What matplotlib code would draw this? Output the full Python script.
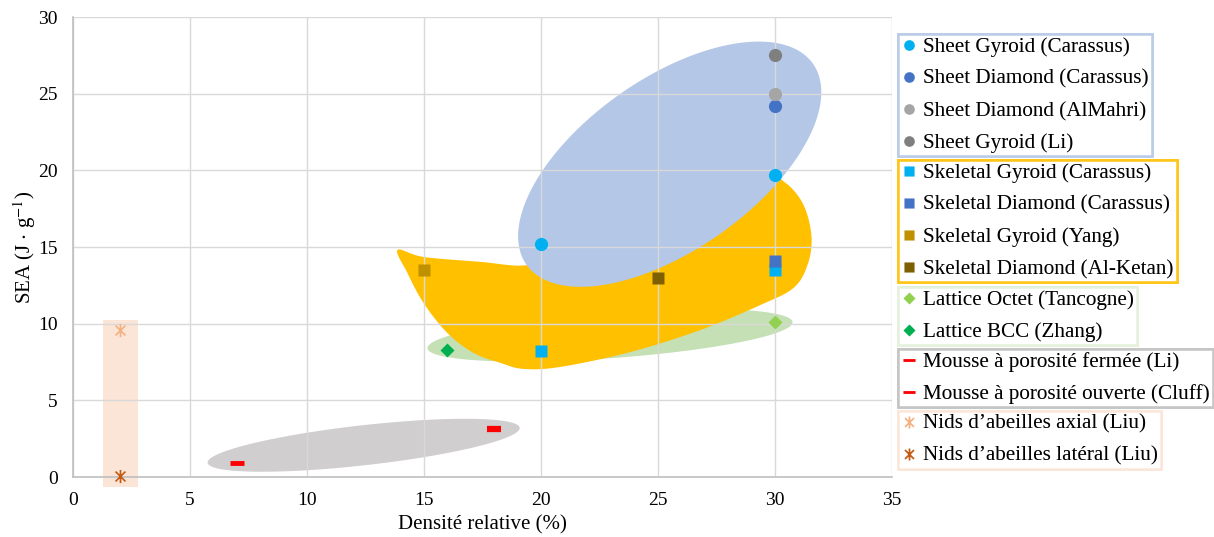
import numpy as np
import matplotlib
matplotlib.use('Agg')
import matplotlib.pyplot as plt
from matplotlib.path import Path
from matplotlib.patches import Polygon, Rectangle
from matplotlib.lines import Line2D

plt.rcParams['font.family'] = ['Liberation Serif', 'DejaVu Serif']
plt.rcParams['mathtext.fontset'] = 'stix'

# ---- data (densite relative %, SEA J/g) ----
labels = ['Sheet Gyroid (Carassus)', 'Sheet Diamond (Carassus)', 'Sheet Diamond (AlMahri)',
          'Sheet Gyroid (Li)',
          'Skeletal Gyroid (Carassus)', 'Skeletal Diamond (Carassus)', 'Skeletal Gyroid (Yang)',
          'Skeletal Diamond (Al-Ketan)',
          'Lattice Octet (Tancogne)', 'Lattice BCC (Zhang)',
          'Mousse à porosité fermée (Li)', 'Mousse à porosité ouverte (Cluff)',
          'Nids d\u2019abeilles axial (Liu)', 'Nids d\u2019abeilles latéral (Liu)']
xs = [[20, 30], [30], [30], [30],
      [20, 30], [30], [15], [25],
      [30], [16],
      [7], [18],
      [2], [2]]
ys = [[15.2, 19.7], [24.2], [25.0], [27.5],
      [8.2, 13.5], [14.1], [13.5], [13.0],
      [10.1], [8.3],
      [0.9], [3.1],
      [9.6], [0.05]]
colors = ['#00B0F0', '#4472C4', '#A5A5A5', '#7F7F7F',
          '#00B0F0', '#4472C4', '#BF9000', '#7F6000',
          '#92D050', '#00B050',
          '#FF0000', '#A0201A',
          '#F4B183', '#C55A11']
groups = [[0, 1, 2, 3], [4, 5, 6, 7], [8, 9], [10, 11], [12, 13]]
group_edge = ['#B4C7E7', '#FFC000', '#E2F0D9', '#BFBFBF', '#FBE5D6']
group_top = [34, 160, 287, 349, 411]   # legend box tops, px

# asterisk: vertical bar + X
star = Path([(0, -1), (0, 1), (-0.75, -0.75), (0.75, 0.75), (-0.75, 0.75), (0.75, -0.75)],
            [Path.MOVETO, Path.LINETO] * 3)
mk = ['o'] * 4 + ['s'] * 4 + ['D'] * 2 + ['_'] * 2 + [star] * 2
ms = [9.5] * 4 + [9] * 4 + [7.5] * 2 + [10] * 2 + [9.5] * 2

# region outlines (data coords)
yellow_x = [13.87, 14.98, 17.41, 19.3, 20.6, 23.5, 26.82, 29.59, 30.45, 31.22, 31.56, 31.39,
            30.79, 29.38, 26.82, 23.82, 20.83, 19.25, 18.27, 17.12, 16.0, 14.98, 14.29]
yellow_y = [14.81, 14.35, 14.03, 13.8, 14.5, 16.4, 17.9, 19.50, 19.18, 17.74, 15.66, 13.83,
            12.33, 11.22, 9.59, 8.15, 7.18, 7.05, 7.44, 8.09, 9.39, 11.35, 13.31]
# ellipses: center (data), semi-axes (px), angle (deg, on screen)
ellipses = [((12.42, 2.07), 157, 20, 6.4, '#D0CECE'),
            ((22.95, 9.25), 183, 23, 4.1, '#C5E0B4')]
blue_ell = ((25.5, 20.4), 175, 86, 35.0, '#B4C7E7')


def catmull(px, py, n=20):
    p = np.column_stack([px, py])
    m = len(p)
    out = []
    for i in range(m):
        p0, p1, p2, p3 = p[i - 1], p[i], p[(i + 1) % m], p[(i + 2) % m]
        for t in np.linspace(0, 1, n, endpoint=False):
            t2, t3 = t * t, t * t * t
            out.append(0.5 * (2 * p1 + (-p0 + p2) * t + (2 * p0 - 5 * p1 + 4 * p2 - p3) * t2
                              + (-p0 + 3 * p1 - 3 * p2 + p3) * t3))
    return np.array(out)


W, H = 1214, 537
fig = plt.figure(figsize=(W / 100, H / 100), dpi=100)
L, R, T, B = 73, 892, 17, 477
ax = fig.add_axes([L / W, 1 - B / H, (R - L) / W, (B - T) / H])
ax.set_xlim(0, 35)
ax.set_ylim(0, 30)
sx = 35 / (R - L)
sy = 30 / (B - T)


def ell_poly(c, a, b, ang):
    t = np.linspace(0, 2 * np.pi, 200)
    th = np.radians(ang)
    dx = a * np.cos(t) * np.cos(th) - b * np.sin(t) * np.sin(th)
    dy = a * np.cos(t) * np.sin(th) + b * np.sin(t) * np.cos(th)
    return np.column_stack([c[0] + dx * sx, c[1] + dy * sy])


for c, a, b, ang, col in ellipses:
    ax.add_patch(Polygon(ell_poly(c, a, b, ang), closed=True, fc=col, ec='none', zorder=0.2))
ax.add_patch(Polygon(catmull(yellow_x, yellow_y), closed=True, fc='#FFC000', ec='none', zorder=0.25))
c, a, b, ang, col = blue_ell
ax.add_patch(Polygon(ell_poly(c, a, b, ang), closed=True, fc=col, ec='none', zorder=0.3))
ax.add_patch(Rectangle((1.3, -0.64), 1.48, 10.9, fc='#FBE5D6', ec='none', zorder=0.2, clip_on=False))

handles = []
for i in range(len(labels)):
    if mk[i] == '_':
        kw = dict(mec=colors[i], mew=3.5)
    elif mk[i] is star:
        kw = dict(mec=colors[i], mew=1.2, mfc='none')
    else:
        kw = dict(mec='none', mfc=colors[i])
    if i == 11:
        kw = dict(mec='#FF0000', mew=4.5)
    ax.plot(xs[i], ys[i], ls='none', marker=mk[i], ms=ms[i], zorder=3, clip_on=False, **kw)
    kw_leg = dict(kw)
    if mk[i] == '_':
        kw_leg = dict(mec='#FF0000', mew=2)
    h = Line2D([], [], ls='none', marker=mk[i],
               ms=(ms[i] * 0.8 if mk[i] in ('o', 's', 'D') else ms[i] * 0.9), **kw_leg)
    handles.append(h)

ax.set_xticks(np.arange(0, 36, 5))
ax.set_yticks(np.arange(0, 31, 5))
ax.grid(True, color='#D9D9D9', lw=1)
ax.set_axisbelow(True)
ax.tick_params(length=0, labelsize=14, pad=11)
for s in ['top', 'right']:
    ax.spines[s].set_visible(False)
for s in ['left', 'bottom']:
    ax.spines[s].set_color('#BFBFBF')
    ax.spines[s].set_linewidth(1.2)
ax.set_xlabel('Densité relative (%)', fontsize=15, labelpad=4)
ax.set_ylabel('SEA (J $\\cdot$ g$^{-1}$)', fontsize=15, labelpad=0)

for g, ec, top in zip(groups, group_edge, group_top):
    lg = fig.legend([handles[i] for i in g], [labels[i] for i in g], loc='upper left',
                    bbox_to_anchor=(898 / W, 1 - top / H), fontsize=15.2, frameon=True,
                    fancybox=False, borderpad=0.15, borderaxespad=0, labelspacing=0.58,
                    handlelength=0.7, handletextpad=0.35)
    lg.get_frame().set_edgecolor(ec)
    lg.get_frame().set_linewidth(1.9)
    fig.add_artist(lg)

fig.savefig('out.png', dpi=100)
